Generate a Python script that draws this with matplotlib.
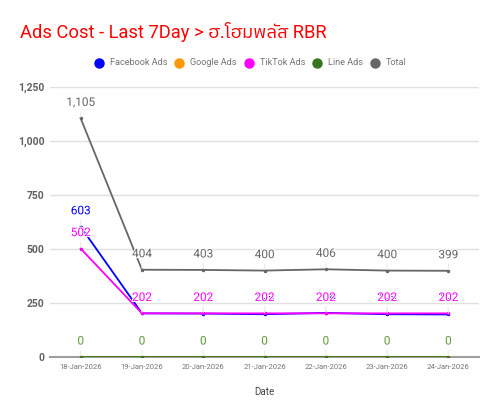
import matplotlib
matplotlib.use("Agg")
import matplotlib.pyplot as plt
import matplotlib.patheffects as pe
from matplotlib import font_manager
from matplotlib.lines import Line2D
from matplotlib.ticker import FuncFormatter

dates = ["18-Jan-2026", "19-Jan-2026", "20-Jan-2026", "21-Jan-2026",
         "22-Jan-2026", "23-Jan-2026", "24-Jan-2026"]
facebook = [603, 202, 201, 198, 204, 198, 197]
google = [0, 0, 0, 0, 0, 0, 0]
tiktok = [502, 202, 202, 202, 202, 202, 202]
line_ads = [0, 0, 0, 0, 0, 0, 0]
total = [1105, 404, 403, 400, 406, 400, 399]

# find something that can draw Thai, fall back to DejaVu
thai = sorted({f.name for f in font_manager.fontManager.ttflist if "Thai" in f.name or "Tlwg" in f.name or "Loma" in f.name})
fams = ["Roboto"] + thai + ["DejaVu Sans"]
plt.rcParams["font.family"] = fams

fig = plt.figure(figsize=(5, 4.15), dpi=100)
ax = fig.add_axes([0.1, 0.1398, 0.858, 0.6506])
x = list(range(len(dates)))

series = [
    ("Total", total, "#666666", "#666666", True),
    ("Google Ads", google, "#ff9900", "#ff9900", False),
    ("Line Ads", line_ads, "#38761d", "#5e9a3f", True),
    ("Facebook Ads", facebook, "#0000ff", "#0000ff", True),
    ("TikTok Ads", tiktok, "#ff00ff", "#ff00ff", True),
]
for name, vals, col, lcol, show in series:
    ax.plot(x, vals, color=col, lw=1.3, marker="o", ms=1.5, zorder=3)
for name, vals, col, lcol, show in series:
    if not show:
        continue
    for xi, v in zip(x, vals):
        ax.annotate(f"{v:,}", (xi, v), xytext=(0, 11.5), textcoords="offset points",
                    ha="center", va="center", fontsize=8.5, color=lcol, zorder=5,
                    path_effects=[pe.withStroke(linewidth=1.5, foreground="white")],
                    arrowprops=dict(arrowstyle="-", color="#ececec", lw=0.8,
                                    shrinkA=0, shrinkB=1))

ax.set_xlim(-0.5, 6.5)
ax.set_ylim(0, 1250)
ax.set_yticks([0, 250, 500, 750, 1000, 1250])
ax.yaxis.set_major_formatter(FuncFormatter(lambda v, p: f"{int(v):,}"))
ax.set_xticks(x)
ax.set_xticklabels(dates)
ax.tick_params(axis="y", length=0, labelsize=7.5, labelcolor="#616161", pad=4)
ax.tick_params(axis="x", length=0, labelsize=5.5, labelcolor="#757575", pad=5)
for lab in ax.get_yticklabels():
    lab.set_fontweight("bold")
ax.grid(axis="y", color="#e0e0e0", lw=1)
ax.set_axisbelow(True)
for s in ["top", "right", "left"]:
    ax.spines[s].set_visible(False)
ax.spines["bottom"].set_color("#9e9e9e")
ax.spines["bottom"].set_linewidth(1.5)
ax.set_xlabel("Date", fontsize=7, color="#424242", labelpad=12)

fig.text(0.04, 0.924, "Ads Cost - Last 7Day > ฮ.โฮมพลัส RBR", color="#ff0000",
         fontsize=13.2, va="center", ha="left")

# legend laid out by hand, one row
names = ["Facebook Ads", "Google Ads", "TikTok Ads", "Line Ads", "Total"]
cols = ["#0000ff", "#ff9900", "#ff00ff", "#38761d", "#666666"]
leg_x = [0.198, 0.358, 0.498, 0.634, 0.750]
for lx, c, n in zip(leg_x, cols, names):
    fig.add_artist(Line2D([lx], [0.849], marker="o", ls="none", color=c, ms=6.5,
                          transform=fig.transFigure))
    fig.text(lx + 0.021, 0.849, n, fontsize=6.6, color="#757575", va="center", ha="left")

fig.savefig("out.png", dpi=100)
